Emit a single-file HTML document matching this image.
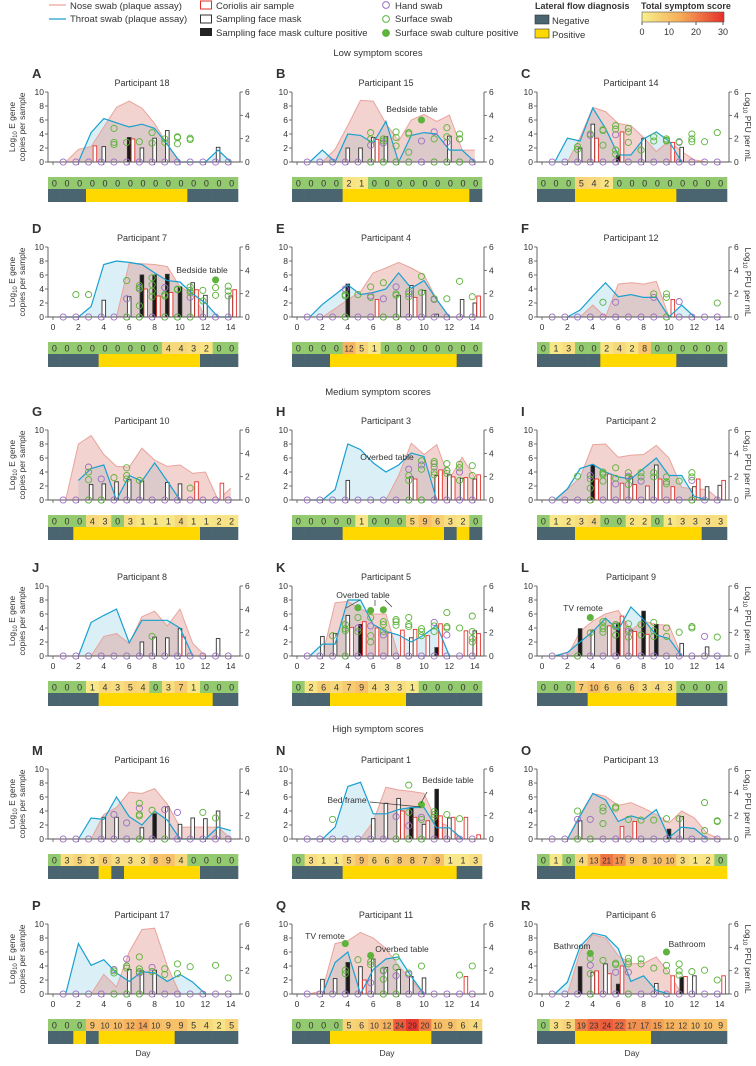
<!DOCTYPE html>
<html><head><meta charset="utf-8">
<style>
html,body{margin:0;padding:0;background:#fff;}
body{width:756px;height:1061px;overflow:hidden;font-family:"Liberation Sans",sans-serif;}
svg text{font-family:"Liberation Sans",sans-serif;fill:#333;}
</style></head>
<body>
<svg id="fig" width="756" height="1061" viewBox="0 0 756 1061" xmlns="http://www.w3.org/2000/svg">
<g id="legend">
  <line x1="49" y1="5" x2="66" y2="5" stroke="#eaa39c" stroke-width="1.3"/>
  <text x="70" y="9" font-size="9.5">Nose swab (plaque assay)</text>
  <line x1="49" y1="19" x2="66" y2="19" stroke="#1aa0d0" stroke-width="1.3"/>
  <text x="70" y="22" font-size="9.5">Throat swab (plaque assay)</text>
  <rect x="200.5" y="1" width="11" height="8" fill="#fff" stroke="#e5302a" stroke-width="1"/>
  <text x="216" y="9" font-size="9.5">Coriolis air sample</text>
  <rect x="200.5" y="15" width="11" height="8" fill="#fff" stroke="#333" stroke-width="1"/>
  <text x="216" y="22" font-size="9.5">Sampling face mask</text>
  <rect x="200" y="28" width="12" height="8" fill="#222"/>
  <text x="216" y="36" font-size="9.5">Sampling face mask culture positive</text>
  <circle cx="386" cy="5" r="3.4" fill="none" stroke="#9a6fc0"/>
  <text x="395" y="9" font-size="9.5">Hand swab</text>
  <circle cx="386" cy="19" r="3.4" fill="none" stroke="#5db33b"/>
  <text x="395" y="22" font-size="9.5">Surface swab</text>
  <circle cx="386" cy="33" r="3.4" fill="#5db33b" stroke="#5db33b"/>
  <text x="395" y="36" font-size="9.5">Surface swab culture positive</text>
  <text x="535" y="9" font-size="9" font-weight="bold">Lateral flow diagnosis</text>
  <rect x="535" y="15" width="14" height="9" fill="#4a6470" stroke="#333" stroke-width="0.6"/>
  <text x="552" y="24" font-size="9.5">Negative</text>
  <rect x="535" y="29" width="14" height="9" fill="#ffd800" stroke="#333" stroke-width="0.6"/>
  <text x="552" y="38" font-size="9.5">Positive</text>
  <text x="641" y="9" font-size="9" font-weight="bold">Total symptom score</text>
  <defs><linearGradient id="cb" x1="0" x2="1" y1="0" y2="0">
    <stop offset="0" stop-color="#f7f08c"/><stop offset="0.45" stop-color="#f6b05a"/><stop offset="1" stop-color="#e5302a"/>
  </linearGradient></defs>
  <rect x="642" y="12" width="82" height="10" fill="url(#cb)" stroke="#555" stroke-width="0.6"/>
  <g font-size="9" text-anchor="middle">
    <line x1="642" y1="22" x2="642" y2="25" stroke="#555"/><text x="642" y="35">0</text>
    <line x1="669" y1="22" x2="669" y2="25" stroke="#555"/><text x="669" y="35">10</text>
    <line x1="696" y1="22" x2="696" y2="25" stroke="#555"/><text x="696" y="35">20</text>
    <line x1="723" y1="22" x2="723" y2="25" stroke="#555"/><text x="723" y="35">30</text>
  </g>
</g>
<text x="378" y="56" font-size="9.5" text-anchor="middle">Low symptom scores</text>
<text x="378" y="395" font-size="9.5" text-anchor="middle">Medium symptom scores</text>
<text x="378" y="732" font-size="9.5" text-anchor="middle">High symptom scores</text>
<g id="panels"></g>
</svg>
<script>
var baselineDays=[1,2,3,4,5,6,7,8,9,10,11,12,13,14];
var leftTicks=[0,2,4,6,8,10];
var rightTicks=[0,2,4,6];
var dayTicks=[0,2,4,6,8,10,12,14];
var N=null;
// ---- A ----
var nose_A=[N,0,1.8,2.2,5.0,7.8,8.7,7.7,5.5,2.5,0,N,N,N,N];
var throat_A=[N,N,0,4.2,6.2,5.6,5.0,5.4,4.8,2.5,0,0,0,1.7,0];
var mask_A=[[4,2.2,0],[6,3.5,1],[7,2.0,0],[8,3.4,0],[9,4.5,0],[13,2.1,0]];
var air_A=[[3,2.3],[6,3.3]];
var surf_A=[[5,4.8,2.8,2.5],[6,2.8],[7,2.9],[8,4.2,2.7],[9,3.3,2.8],[10,3.6,3.5,2.6],[11,3.4,3.2]];
var surfPos_A=[];var hand_A=[];
var sym_A=[0,0,0,0,0,0,0,0,0,0,0,0,0,0,0];
var lfd_A=[0,0,0,1,1,1,1,1,1,1,1,0,0,0,0];
// ---- B ----
var nose_B=[N,N,0,1.8,5.2,8.8,8.7,5.5,3.0,6.0,6.8,5.8,6.7,1.7,1.7];
var throat_B=[N,0,1.7,0,4.0,3.8,2.7,5.8,0,3.8,4.2,4.0,1.7,1.7,0];
var mask_B=[[4,2.0,0],[5,2.0,0],[6,3.5,0],[7,3.6,0],[12,3.7,0]];
var air_B=[[6,3.2]];
var surf_B=[[6,4.2,3.3,0],[7,3.3,3.0,0],[8,4.3,3.5,2.3,0],[9,4.2,4.0,1.4,0],[11,3.3,0],[12,4.9,3.6,0],[13,4.0,3.3,0]];
var surfPos_B=[[10,6.0]];
var hand_B=[[6,2.4],[7,2.7],[10,3.0],[11,4.3],[12,2.8],[13,3.3]];
var sym_B=[0,0,0,0,2,1,0,0,0,0,0,0,0,0,0];
var lfd_B=[0,0,0,0,1,1,1,1,1,1,1,1,1,1,0];
// ---- C ----
var nose_C=[N,N,0,3.5,7.8,7.2,5.5,5.2,3.5,1.5,3.0,1.5,0.3,0,0];
var throat_C=[N,0,3.4,3.0,7.7,4.8,1.0,1.0,3.3,4.3,3.0,0,N,N,N];
var mask_C=[[3,2.0,0],[4,5.4,0],[6,0.9,1],[8,3.4,0],[11,2.1,0]];
var air_C=[[4,3.4],[6,4.3],[10,2.8]];
var surf_C=[[3,2.2,1.8],[4,4.0],[5,4.6,4.5,2.4],[6,5.2,4.7,1.7,1.1],[7,4.8,4.3,2.8],[8,1.7],[9,3.6,3.0],[10,3.3,3.1,3.0],[11,2.9],[12,4.0,3.3,2.9],[13,2.9],[14,4.2]];
var surfPos_C=[];
var hand_C=[[4,3.8],[6,3.9],[11,2.8]];
var sym_C=[0,0,0,5,4,2,0,0,0,0,0,0,0,0,0];
var lfd_C=[0,0,0,1,1,1,1,1,1,1,1,0,0,0,0];
// ---- D ----
var nose_D=[N,N,N,N,N,0,7.7,7.6,7.5,7.2,4.3,3.3,0,N,N];
var throat_D=[N,0,0,1.5,7.5,8.0,7.8,7.5,6.3,5.2,5.0,3.3,2.0,0,0];
var mask_D=[[4,2.4,0],[6,2.9,0],[7,6.0,1],[8,6.0,1],[9,6.1,1],[10,4.3,1],[11,4.9,0],[12,3.1,0],[14,3.0,0]];
var air_D=[[7,4.0],[8,3.0],[9,3.5],[11,3.9],[14,3.9]];
var surf_D=[[2,3.2],[3,3.2],[6,5.2,0],[7,4.5,4.0,1.6,0],[8,5.6,4.6,3.7,2.9],[9,3.2,3.0,0],[10,4.0,3.9,0],[11,4.3,3.8,3.5,0],[12,3.8,2.3],[13,4.2,3.1],[14,4.4,3.7,3.0]];
var surfPos_D=[[13,5.3]];
var hand_D=[[6,2.6],[7,4.2],[9,4.2],[11,2.8]];
var sym_D=[0,0,0,0,0,0,0,0,0,4,4,3,2,0,0];
var lfd_D=[0,0,0,0,1,1,1,1,1,1,1,1,0,0,0];
// ---- E ----
var nose_E=[N,N,0,1.2,2.5,3.6,6.3,7.0,7.8,7.0,6.0,2.5,0,N,N];
var throat_E=[N,0,1.8,3.2,4.6,3.2,3.5,4.0,6.3,4.1,5.2,2.5,0,N,N];
var mask_E=[[4,4.7,1],[8,3.1,0],[9,4.5,0],[10,3.8,0],[11,0.4,0],[13,2.5,0],[14,2.0,0]];
var air_E=[[6,2.5],[9,2.8],[14,3.0]];
var surf_E=[[4,3.2,3.0,0],[5,3.2],[6,4.3,2.8],[7,4.9,0],[8,3.3,3.1,0],[9,3.6,2.9],[10,5.8,3.5],[11,2.6],[12,2.6],[13,5.1],[14,2.9]];
var surfPos_E=[];
var hand_E=[[4,4.0],[6,3.0],[7,2.6],[8,4.3],[9,3.3],[11,2.5]];
var sym_E=[0,0,0,0,12,5,1,0,0,0,0,0,0,0,0];
var lfd_E=[0,0,0,1,1,1,1,1,1,1,1,1,1,0,0];
// ---- F ----
var nose_F=[N,N,N,0,1.7,0,4.7,4.9,4.7,5.1,0,N,N,N,N];
var throat_F=[N,N,0,1.0,3.0,4.9,2.9,3.2,2.8,2.8,0,1.7,0,N,N];
var mask_F=[];
var air_F=[[10,2.5]];
var surf_F=[[5,2.1],[9,3.3],[10,3.3,2.8,0],[14,2.0]];
var surfPos_F=[];
var hand_F=[[6,2.1],[9,2.8],[11,2.2]];
var sym_F=[0,1,3,0,0,2,4,2,8,0,0,0,0,0,0];
var lfd_F=[0,0,0,0,0,1,1,1,1,1,1,0,0,0,0];
// ---- G ----
var nose_G=[N,0,8.0,9.2,6.5,4.8,4.7,7.4,5.7,4.8,5.0,3.8,4.0,0,1.7];
var throat_G=[N,N,2.8,4.5,5.0,0,3.5,2.7,5.3,2.7,0,N,N,N,N];
var mask_G=[[3,2.2,0],[4,2.3,0],[5,2.6,0],[6,2.9,0],[7,2.7,0],[9,2.5,0],[10,2.3,0]];
var air_G=[[11,2.6],[13,2.4]];
var surf_G=[[3,4.0,2.9,0],[4,0],[5,3.2],[6,4.6,3.5,3.0],[7,2.8],[11,1.7]];
var surfPos_G=[];
var hand_G=[[3,4.7],[4,3.0]];
var sym_G=[0,0,0,4,3,0,3,1,1,1,4,1,1,2,2];
var lfd_G=[0,0,1,1,1,1,1,1,1,1,1,1,0,0,0];
// ---- H ----
var nose_H=[N,N,N,N,N,N,N,0,3.5,8.1,6.5,7.9,3.0,6.1,3.2];
var throat_H=[N,0,0,1.5,8.0,7.2,5.3,4.0,5.0,6.7,6.2,0,N,N,N];
var mask_H=[[4,2.8,0],[9,3.3,0],[11,3.5,0],[12,3.6,0],[13,3.1,0],[14,3.0,0]];
var air_H=[[9,3.0],[11,4.3],[12,3.3],[13,3.2],[14,3.6]];
var surf_H=[[9,3.5,2.8,0],[10,5.6,4.4,0],[11,5.5,5.2,4.0,3.6],[12,5.2,4.2,3.8],[13,5.1,4.6,2.8],[14,4.9,3.5]];
var surfPos_H=[];
var hand_H=[[9,4.4],[10,5.0],[11,4.7],[12,4.2],[13,4.0]];
var sym_H=[0,0,0,0,0,1,0,0,0,5,9,6,3,2,0];
var lfd_H=[0,0,0,0,1,1,1,1,1,1,1,1,0,1,0];
// ---- I ----
var nose_I=[N,0,1.5,3.2,7.9,8.0,6.1,6.4,6.5,7.8,6.0,1.8,1.6,1.5,0];
var throat_I=[N,0,1.6,4.5,5.1,4.0,3.3,3.0,4.5,6.0,3.5,3.5,0.5,0,N];
var mask_I=[[4,5.0,1],[7,3.3,0],[9,5.0,0],[12,1.9,0],[13,1.9,0],[14,2.1,0]];
var air_I=[[4,3.0],[5,3.7],[6,2.4],[7,2.2],[8,2.0],[9,3.0],[10,1.9],[12,3.0],[14,2.8]];
var surf_I=[[3,3.4],[4,3.0,1.7,0],[5,4.0,3.8,3.6,2.7],[6,4.6,3.1],[7,3.9,3.2,2.2],[8,3.9,3.3],[9,3.9,3.3],[10,3.3,2.6,2.3],[11,2.7],[12,3.9,3.3,0]];
var surfPos_I=[];
var hand_I=[[4,3.5],[6,2.3],[7,3.4],[8,2.7],[12,2.8]];
var sym_I=[0,1,2,3,4,0,0,2,2,0,1,3,3,3,3];
var lfd_I=[0,0,0,1,1,1,1,1,1,1,1,1,1,0,0];
// ---- J ----
var nose_J=[N,N,N,0,2.8,3.2,1.8,5.6,6.4,4.3,6.7,1.8,0,N,N];
var throat_J=[N,N,0,4.8,5.8,6.7,1.9,5.1,5.1,5.1,4.0,0,N,N,N];
var mask_J=[[7,2.0,0],[8,2.7,0],[9,2.6,0],[10,3.9,0],[13,2.5,0]];
var air_J=[[10,2.7]];
var surf_J=[[8,2.8]];
var surfPos_J=[];var hand_J=[];
var sym_J=[0,0,0,1,4,3,5,4,0,3,7,1,0,0,0];
var lfd_J=[0,0,0,0,1,1,1,1,1,1,1,1,1,0,0];
// ---- K ----
var nose_K=[N,N,0,7.6,7.8,6.7,6.0,6.0,0,N,N,N,N,N,N];
var throat_K=[N,0,1.7,1.7,8.0,8.0,4.5,3.5,3.0,2.0,3.0,4.4,0,N,N];
var mask_K=[[2,2.8,0],[3,3.2,0],[4,5.8,0],[5,4.5,1],[9,2.6,0],[11,1.2,1],[14,3.6,0]];
var air_K=[[4,4.1],[5,4.9],[6,4.0],[7,3.3],[8,3.7],[9,3.8],[10,2.9],[11,4.6],[13,3.6],[14,3.2]];
var surf_K=[[3,2.9],[4,4.5,3.9,3.6,0],[5,5.5,3.5],[6,5.5,2.9,2.0],[7,4.9,4.5,3.5],[8,5.2,4.9,4.4],[9,5.5,4.5,4.2],[10,3.9,3.5,2.9],[11,4.3,3.5],[12,6.2,4.2,4.0],[13,4.0],[14,5.7,3.5,2.5,2.0]];
var surfPos_K=[[5,6.9],[6,6.5],[7,6.6]];
var hand_K=[[5,4.0],[6,4.3],[7,3.0],[11,4.8],[12,3.0]];
var sym_K=[0,2,6,4,7,9,4,3,3,1,0,0,0,0,0];
var lfd_K=[0,0,0,1,1,1,1,1,1,0,0,0,0,0,0];
// ---- L ----
var nose_L=[N,N,0,3.5,5.0,6.0,6.5,3.7,5.0,4.5,4.4,0,N,N,N];
var throat_L=[N,0,0.5,2.0,3.5,5.4,3.7,7.0,5.2,3.0,2.5,0,N,N,N];
var mask_L=[[3,3.9,1],[4,3.7,0],[6,4.7,1],[7,3.7,0],[8,6.4,1],[9,4.5,1],[11,1.8,0],[13,1.3,0]];
var air_L=[[5,4.3],[6,5.7],[7,3.5],[8,3.1]];
var surf_L=[[3,0],[4,3.3],[5,4.9,4.3,3.9,3.4],[6,4.5,4.2,3.0],[7,4.6,3.8,2.7],[8,4.5,3.0],[9,4.8,3.6,2.8],[10,4.0,2.8],[11,3.4],[12,4.2,4.0],[14,2.7]];
var surfPos_L=[[4,5.5]];
var hand_L=[[6,4.3],[7,3.5],[13,2.8]];
var sym_L=[0,0,0,7,10,6,6,6,3,4,3,0,0,0,0];
var lfd_L=[0,0,0,0,1,1,1,1,1,1,1,0,0,0,0];
// ---- M ----
var nose_M=[N,N,N,0,3.5,4.5,6.7,6.5,7.2,5.0,1.7,1.7,1.7,1.7,0];
var throat_M=[N,N,0,3.0,2.8,6.0,3.2,2.0,4.0,2.7,0,0,0,1.7,1.2];
var mask_M=[[4,3.1,0],[5,3.1,0],[7,1.6,0],[8,3.6,1],[9,4.6,0],[10,2.1,0],[11,3.0,0],[12,2.9,0],[13,4.0,0]];
var air_M=[];
var surf_M=[[7,5.1,3.5,3.3,0],[8,4.1],[9,0],[12,3.8],[13,3.0]];
var surfPos_M=[];
var hand_M=[[5,3.5],[6,2.3],[7,4.4],[9,4.2],[10,3.8]];
var sym_M=[0,3,5,3,6,3,3,3,8,9,4,0,0,0,0];
var lfd_M=[0,0,0,0,1,0,1,1,1,1,1,1,0,0,0];
// ---- N ----
var nose_N=[N,N,N,N,N,0,2.5,7.4,7.0,6.8,6.5,2.5,1.8,0,N];
var throat_N=[N,0,0,1.7,7.5,8.1,3.6,3.6,4.2,4.5,4.5,1.6,1.6,0,N];
var mask_N=[[6,2.9,0],[7,5.1,0],[8,5.8,0],[9,4.5,1],[10,2.1,0],[11,7.1,1],[12,3.0,0]];
var air_N=[[8,4.0],[9,3.1],[10,2.6],[11,3.3],[12,3.1],[13,3.1],[14,0.6]];
var surf_N=[[3,2.8],[8,0],[9,7.7,3.8,0],[10,2.8,0],[11,3.9,3.5,3.1],[12,3.5],[13,2.9]];
var surfPos_N=[[10,4.9]];
var hand_N=[[8,3.2],[9,1.9],[10,3.1]];
var sym_N=[0,3,1,1,5,9,6,6,8,8,7,9,1,1,3];
var lfd_N=[0,0,0,0,1,1,1,1,1,1,1,1,1,0,0];
// ---- O ----
var nose_O=[N,N,0,3.5,6.5,6.1,4.8,5.2,4.4,3.5,2.3,4.0,3.0,0.8,0];
var throat_O=[N,N,0,3.3,6.5,5.6,2.5,3.3,2.8,4.2,0.2,1.7,1.5,0,N];
var mask_O=[[3,2.6,0],[10,1.4,1],[11,3.2,0]];
var air_O=[[6,1.8],[7,2.5]];
var surf_O=[[3,4.0,0],[4,0],[5,4.5,4.0,2.2],[6,4.6,4.4],[7,2.8],[8,2.7],[9,2.7],[10,2.9],[11,2.9],[13,5.2,1.2],[14,2.6,2.5]];
var surfPos_O=[];
var hand_O=[[3,2.8],[4,2.8]];
var sym_O=[0,1,0,4,13,21,17,9,8,10,10,3,1,2,0];
var lfd_O=[0,0,0,1,1,1,1,1,1,1,1,1,1,1,1];
// ---- P ----
var nose_P=[N,N,N,0,2.8,1.0,6.0,9.2,9.4,4.0,0,N,N,N,N];
var throat_P=[N,0,7.2,4.1,4.9,3.0,1.8,3.2,3.0,1.8,2.8,1.7,0,N,N];
var mask_P=[[6,3.5,0],[7,3.3,0],[8,3.4,0]];
var air_P=[];
var surf_P=[[5,3.3,3.0,0],[6,4.0,3.7,0],[7,5.3,3.6,3.2,0],[8,3.2],[9,3.6,2.8],[10,4.3,2.9],[11,3.9],[13,4.1],[14,2.3]];
var surfPos_P=[];
var hand_P=[[5,3.5],[6,5.0],[7,3.0],[8,3.8]];
var sym_P=[0,0,0,9,10,10,12,14,10,9,9,5,4,2,5];
var lfd_P=[0,0,1,0,1,1,1,1,1,1,0,0,0,0,0];
// ---- Q ----
var nose_Q=[N,0,0.5,7.2,7.6,8.8,8.0,6.5,4.0,2.0,0,N,N,N,N];
var throat_Q=[N,N,0,4.5,6.0,0,3.5,5.0,5.3,2.5,0,N,N,N,N];
var mask_Q=[[2,2.1,0],[3,2.2,0],[4,4.5,1],[5,3.9,0],[6,5.0,0],[7,3.8,0],[8,3.5,0],[9,2.5,0],[10,2.3,0]];
var air_Q=[[5,2.0],[13,2.5]];
var surf_Q=[[4,3.4,2.9],[5,4.9],[6,4.6,4.2],[7,3.4,2.1,0],[8,5.3,3.8,0],[9,3.0],[10,4.0],[13,2.7],[14,4.0]];
var surfPos_Q=[[4,7.2],[6,5.5]];
var hand_Q=[[6,1.6],[7,3.3],[8,2.6],[9,2.8]];
var sym_Q=[0,0,0,0,5,6,10,12,24,29,20,10,9,6,4];
var lfd_Q=[0,0,0,1,1,1,1,1,1,1,1,0,0,0,0];
// ---- R ----
var nose_R=[N,N,0,6.0,8.5,8.0,5.5,4.3,4.4,5.3,3.0,0,N,N,N];
var throat_R=[N,0,1.7,6.8,8.7,8.3,6.5,1.8,2.6,0.5,0,N,N,N,N];
var mask_R=[[3,3.9,1],[4,3.1,0],[5,4.3,0],[6,1.4,1],[9,1.5,0],[11,2.4,1],[12,2.6,0]];
var air_R=[[4,3.3],[5,2.9],[6,4.0],[10,2.6],[11,2.5],[14,2.6]];
var surf_R=[[4,5.1,2.9,0],[5,4.8],[6,4.4,4.2],[7,5.1,4.6,4.3,0],[8,5.0,4.3],[9,3.7],[10,4.1,3.3],[11,4.3,3.3,2.7],[12,3.2],[13,3.4],[14,2.0]];
var surfPos_R=[[4,5.8],[10,6.0]];
var hand_R=[[4,4.1],[6,3.1],[7,3.1]];
var sym_R=[0,3,5,19,23,24,22,17,17,15,12,12,10,10,9];
var lfd_R=[0,0,0,1,1,1,1,1,1,0,0,0,0,0,0];

var panelIds=['A','B','C','D','E','F','G','H','I','J','K','L','M','N','O','P','Q','R'];
var participants=['18','15','14','7','4','12','10','3','2','8','5','9','16','1','13','17','11','6'];
var annotations=[
 ['B','Bedside table',412,112],['D','Bedside table',202,273],['H','Overbed table',387,460],
 ['K','Overbed table',363,598],['L','TV remote',583,611],['N','Bed frame',347,803],
 ['N','Bedside table',448,783],['Q','TV remote',325,939],['Q','Overbed table',402,952],
 ['R','Bathroom',572,949],['R','Bathroom',687,947]
];

var colX=[48,292,537];
var rowY0=[162,317,500,656,839,994];
var NS='http://www.w3.org/2000/svg';
var root=document.getElementById('panels');
function mk(tag,attrs,parent){var e=document.createElementNS(NS,tag);for(var k in attrs)e.setAttribute(k,attrs[k]);(parent||root).appendChild(e);return e;}
function txt(s,attrs,parent){var e=mk('text',attrs,parent);e.textContent=s;return e;}
function lerp(a,b,t){return Math.round(a+(b-a)*t);}
function scoreColor(s){
  if(s===0)return '#93c96f';
  var t=Math.min(s/30,1),c1,c2,u;
  var A=[248,236,140],B=[246,172,90],C=[229,48,42];
  if(t<0.45){c1=A;c2=B;u=t/0.45;}else{c1=B;c2=C;u=(t-0.45)/0.55;}
  return 'rgb('+lerp(c1[0],c2[0],u)+','+lerp(c1[1],c2[1],u)+','+lerp(c1[2],c2[2],u)+')';
}

panelIds.forEach(function(id,idx){
  var col=idx%3,row=Math.floor(idx/3);
  var X=colX[col],y0=rowY0[row],T=y0-79;
  var labeled=(row%2===1);
  var xD=function(d){return X+5+d*12.7;};
  var yL=function(v){return y0-v*7;};
  var g=mk('g',{});
  
  
  var nose=window['nose_'+id],throat=window['throat_'+id],mask=window['mask_'+id],air=window['air_'+id];
  var surf=window['surf_'+id],surfPos=window['surfPos_'+id]||[],hand=window['hand_'+id],sym=window['sym_'+id],lfd=window['lfd_'+id];

  var L=txt(id,{x:X-16,y:T-5,'font-size':13,'font-weight':'bold',fill:'#222'},g);
  
  
  var tt=txt('Participant '+participants[idx],{x:X+94,y:T+3,'font-size':9,'text-anchor':'middle'},g);
  
  

  function series(arr){var pts=[];arr.forEach(function(v,d){if(v!==null)pts.push([xD(d),yL(v)]);});return pts;}
  function area(pts,fill,stroke,sw,name){
    if(!pts.length)return;
    var d='M'+pts[0][0]+','+y0+' '+pts.map(function(p){return 'L'+p[0]+','+p[1];}).join(' ')+' L'+pts[pts.length-1][0]+','+y0+' Z';
    var a=mk('path',{d:d,fill:fill,stroke:'none'},g);
    
    
    var l=mk('polyline',{points:pts.map(function(p){return p.join(',');}).join(' '),fill:'none',stroke:stroke,'stroke-width':sw},g);
    
    
  }
  var tp=series(throat),np=series(nose);
  area(tp,'rgba(175,220,238,0.45)','none',0,'throat-fill');
  area(np,'rgba(222,140,128,0.38)','#eaa39c',1,'nose-swab');

  mask.forEach(function(m){
    var r=mk('rect',{x:xD(m[0])-1.8,y:yL(m[1]),width:3.6,height:m[1]*7,fill:m[2]?'#1a1a1a':'#fff',stroke:'#333','stroke-width':0.9},g);
    
    
  });
  air.forEach(function(a){
    var r=mk('rect',{x:xD(a[0]+0.3)-1.8,y:yL(a[1]),width:3.6,height:a[1]*7,fill:'#fff',stroke:'#e5302a','stroke-width':0.9},g);
    
    
  });
  if(tp.length){
    var tl=mk('polyline',{points:tp.map(function(p){return p.join(',');}).join(' '),fill:'none',stroke:'#1aa0d0','stroke-width':1.2},g);
    
    
  }
  // axes
  var ax=mk('path',{d:'M'+X+','+yL(10)+' V'+y0+' H'+(X+192)+' M'+(X+192)+','+yL(10)+' V'+y0,stroke:'#555','stroke-width':0.9,fill:'none'},g);
  
  
  leftTicks.forEach(function(v){
    mk('line',{x1:X-3,x2:X,y1:yL(v),y2:yL(v),stroke:'#555','stroke-width':0.8},g);
    var t=txt(String(v),{x:X-4,y:yL(v)+3,'font-size':8.5,'text-anchor':'end'},g);
    
    
  });
  rightTicks.forEach(function(v){
    var y=y0-v*70/6;
    mk('line',{x1:X+192,x2:X+195,y1:y,y2:y,stroke:'#555','stroke-width':0.8},g);
    var t=txt(String(v),{x:X+197,y:y+3,'font-size':8.5},g);
    
    
  });
  dayTicks.forEach(function(d){
    mk('line',{x1:xD(d),x2:xD(d),y1:y0,y2:y0+3,stroke:'#555','stroke-width':0.8},g);
    if(labeled){
      var t=txt(String(d),{x:xD(d),y:y0+13,'font-size':8.5,'text-anchor':'middle'},g);
      
      
    }
  });
  // circles
  function circ(d,v,color,filled,name){
    var c=mk('circle',{cx:xD(d-0.2),cy:yL(v),r:3.1,fill:filled?color:'none',stroke:color,'stroke-width':0.9},g);
    
    
  }
  baselineDays.forEach(function(d){circ(d,0,'#9a6fc0',false,'hand-swab-point');});
  hand.forEach(function(h){circ(h[0],h[1],'#9a6fc0',false,'hand-swab-point');});
  surf.forEach(function(s){for(var i=1;i<s.length;i++)circ(s[0],s[i],'#5db33b',false,'surface-swab-point');});
  surfPos.forEach(function(s){circ(s[0],s[1],'#5db33b',true,'surface-swab-positive-point');});
  // symptom and LFD strips
  var sTop=y0+(labeled?25:15),cw=190/15;
  sym.forEach(function(s,i){
    var r=mk('rect',{x:X+i*cw,y:sTop,width:cw+0.3,height:12,fill:scoreColor(s)},g);
    
    
    var t=txt(String(s),{x:X+i*cw+cw/2,y:sTop+9.5,'font-size':s>=10?8:9,'text-anchor':'middle'},g);
    
    
  });
  lfd.forEach(function(p,i){
    var r=mk('rect',{x:X+i*cw,y:sTop+12,width:cw+0.3,height:13,fill:p?'#ffd800':'#4a6470'},g);
    
    
  });
  if(col===0){
    var yl=txt('',{transform:'translate(15,'+(y0-35)+') rotate(-90)','font-size':8.5,'text-anchor':'middle'},g);
    yl.innerHTML='Log<tspan font-size="6" dy="2">10</tspan><tspan dy="-2"> E gene</tspan>';
    
    
    var yl2=txt('copies per sample',{transform:'translate(25,'+(y0-35)+') rotate(-90)','font-size':8.5,'text-anchor':'middle'},g);
    
    
  }
  if(col===2){
    var yr=txt('',{transform:'translate(745,'+(y0-35)+') rotate(90)','font-size':8.5,'text-anchor':'middle'},g);
    yr.innerHTML='Log<tspan font-size="6" dy="2">10</tspan><tspan dy="-2"> PFU per mL</tspan>';
    
    
  }
  if(row===5){
    var dl=txt('Day',{x:X+95,y:1056,'font-size':8.5,'text-anchor':'middle'},g);
    
    
  }
});
annotations.forEach(function(a){
  var t=txt(a[1],{x:a[2],y:a[3],'font-size':8.5,'text-anchor':'middle'});
  
  
});
// leader lines for panel N and K annotations
[[370,802,421,807],[427,792,421,803],[360,600,346,608],[375,600,375,606],[385,600,392,607]].forEach(function(l){
  var ln=mk('line',{x1:l[0],y1:l[1],x2:l[2],y2:l[3],stroke:'#333','stroke-width':0.7});
  
  
});
</script>
</body></html>
